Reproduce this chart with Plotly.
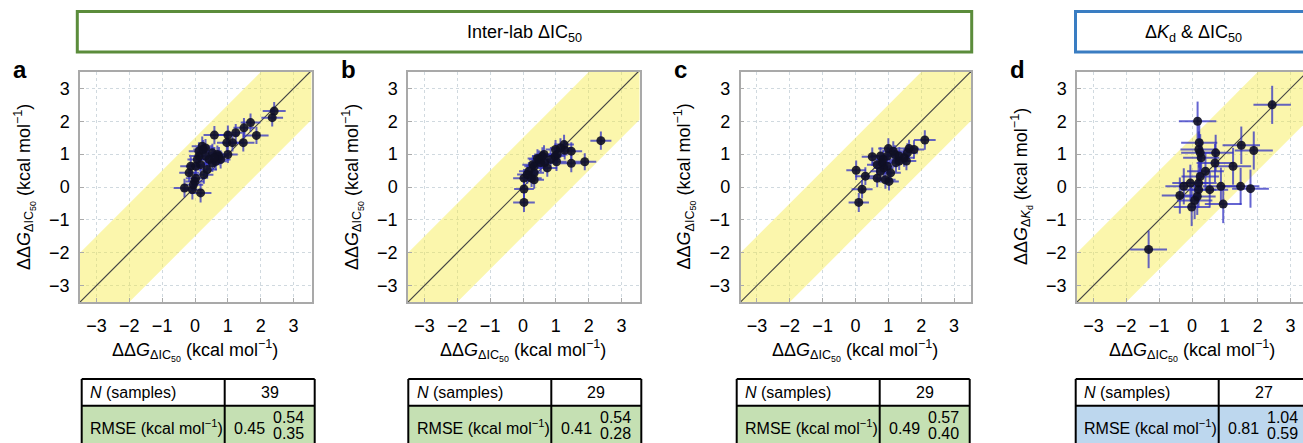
import plotly.graph_objects as go

W, H = 1303, 443
FONT = "Liberation Sans, Arial, Helvetica, sans-serif"

# ---------------- data ----------------
a_x = [2.41, 2.35, 1.69, 1.49, 1.24, 1.00, 1.87, 1.47, 0.59, 0.97, 0.22, 0.32, 0.53, 0.68,
       1.00, 0.12, 0.43, 0.63, 0.78, 0.53, 0.07, -0.13, 0.02, 0.17, 0.37, 0.27, 0.02, -0.01,
       -0.32, -0.08, 0.17, -0.05, 0.73, 0.12, 1.14, 0.25, 0.58, -0.18, 0.32]
a_y = [2.31, 2.11, 1.96, 1.80, 1.65, 1.58, 1.57, 1.35, 1.58, 1.35, 1.24, 1.19, 1.04, 0.99,
       0.99, 0.94, 0.84, 0.78, 0.84, 0.73, 0.84, 0.63, 0.63, 0.68, 0.53, 0.37, 0.27, 0.17,
       -0.03, -0.08, -0.18, 0.07, 0.94, 1.09, 1.35, 1.14, 0.89, 0.43, 0.94]
a_xe = [0.35, 0.33, 0.30, 0.32, 0.30, 0.33, 0.37, 0.34, 0.33, 0.30, 0.32, 0.30, 0.31, 0.33,
        0.30, 0.30, 0.32, 0.34, 0.30, 0.31, 0.30, 0.32, 0.30, 0.31, 0.30, 0.29, 0.30, 0.28,
        0.33, 0.31, 0.33, 0.30, 0.30, 0.31, 0.32, 0.30, 0.31, 0.30, 0.32]
a_ye = [0.28, 0.27, 0.28, 0.30, 0.27, 0.29, 0.26, 0.27, 0.28, 0.28, 0.30, 0.27, 0.28, 0.27,
        0.26, 0.28, 0.29, 0.27, 0.28, 0.27, 0.28, 0.29, 0.27, 0.28, 0.28, 0.27, 0.29, 0.28,
        0.28, 0.30, 0.29, 0.27, 0.28, 0.27, 0.27, 0.29, 0.28, 0.27, 0.28]

b_x = [2.37, 1.25, 1.27, 1.47, 0.99, 1.04, 0.98, 1.02, 1.47, 1.88, 0.64, 0.59, 0.44, 0.74,
       0.54, 0.34, 0.30, 0.18, 0.26, 0.03, 0.34, 0.03, 0.03, 0.49, 0.84, 1.14, 0.34, 0.13, 0.66]
b_y = [1.41, 1.29, 1.12, 1.09, 1.14, 0.99, 0.94, 0.77, 0.72, 0.77, 0.99, 0.94, 0.87, 0.58,
       0.74, 0.63, 0.68, 0.48, 0.27, 0.27, 0.43, -0.06, -0.47, 0.84, 0.84, 1.19, 0.22, 0.38, 0.74]
b_xe = [0.32, 0.30, 0.31, 0.33, 0.30, 0.32, 0.30, 0.31, 0.34, 0.35, 0.30, 0.31, 0.30, 0.30,
        0.31, 0.30, 0.32, 0.30, 0.31, 0.33, 0.30, 0.30, 0.33, 0.31, 0.30, 0.32, 0.30, 0.31, 0.30]
b_ye = [0.28, 0.30, 0.28, 0.27, 0.29, 0.28, 0.27, 0.28, 0.27, 0.26, 0.28, 0.27, 0.28, 0.27,
        0.28, 0.27, 0.29, 0.28, 0.27, 0.28, 0.27, 0.28, 0.29, 0.27, 0.28, 0.29, 0.27, 0.28, 0.27]

c_x = [2.11, 1.78, 1.63, 1.58, 1.55, 1.33, 1.20, 1.15, 1.00, 0.97, 0.76, 0.51, 0.81, 0.86,
       0.76, 0.66, 0.97, 1.07, 1.02, 0.91, 0.66, 0.30, 0.02, 0.20, 0.10, 1.33, 1.48, 1.23, 0.84]
c_y = [1.43, 1.14, 1.17, 1.04, 0.79, 0.79, 0.99, 1.09, 1.17, 0.94, 0.94, 0.92, 0.74, 0.58,
       0.48, 0.68, 0.63, 0.43, 0.17, 0.22, 0.27, 0.33, 0.51, -0.07, -0.47, 0.94, 0.89, 0.74, 0.84]
c_xe = [0.33, 0.31, 0.30, 0.32, 0.30, 0.31, 0.30, 0.32, 0.31, 0.30, 0.30, 0.32, 0.31, 0.30,
        0.30, 0.31, 0.30, 0.31, 0.30, 0.31, 0.30, 0.31, 0.30, 0.32, 0.31, 0.30, 0.31, 0.30, 0.30]
c_ye = [0.30, 0.28, 0.27, 0.29, 0.28, 0.27, 0.28, 0.30, 0.31, 0.28, 0.27, 0.28, 0.29, 0.28,
        0.30, 0.28, 0.27, 0.29, 0.28, 0.27, 0.28, 0.27, 0.30, 0.28, 0.29, 0.28, 0.27, 0.28, 0.28]

d_x = [2.44, 0.17, 0.22, 0.21, 0.25, 0.28, 0.72, 0.70, 1.50, 1.88, 1.25, 0.41, 0.25, -0.05,
       -0.25, 0.20, 0.20, 0.54, 0.88, 1.48, 1.78, -0.37, 0.16, 0.08, -0.01, 0.95, -1.32]
d_y = [2.50, 2.00, 1.35, 1.14, 1.04, 0.89, 1.04, 0.73, 1.27, 1.11, 0.63, 0.48, 0.32, 0.12,
       0.02, 0.12, -0.08, -0.08, 0.02, 0.02, -0.05, -0.26, -0.29, -0.41, -0.61, -0.52, -1.90]
d_xe = [0.57, 0.57, 0.55, 0.56, 0.58, 0.55, 0.54, 0.56, 0.57, 0.58, 0.55, 0.56, 0.57, 0.55,
        0.56, 0.55, 0.54, 0.56, 0.55, 0.57, 0.56, 0.55, 0.56, 0.54, 0.55, 0.56, 0.56]
d_ye = [0.58, 0.60, 0.56, 0.55, 0.57, 0.56, 0.55, 0.58, 0.57, 0.58, 0.56, 0.55, 0.57, 0.56,
        0.55, 0.57, 0.56, 0.55, 0.57, 0.56, 0.58, 0.55, 0.56, 0.57, 0.58, 0.58, 0.57]

panel_letters = ["a", "b", "c", "d"]
n_samples = [39, 29, 29, 27]
rmse = [0.45, 0.41, 0.49, 0.81]
rmse_hi = [0.54, 0.54, 0.57, 1.04]
rmse_lo = [0.35, 0.28, 0.40, 0.59]
tick_vals = [-3, -2, -1, 0, 1, 2, 3]
band_halfwidth = 1.5
header_titles = ["Inter-lab ΔIC<sub>50</sub>", "Δ<i>K</i><sub>d</sub> &amp; ΔIC<sub>50</sub>"]

xtitle = "ΔΔ<i>G</i><sub>ΔIC<sub>50</sub></sub> (kcal mol<sup>−1</sup>)"
ytitles = [xtitle, xtitle, xtitle,
           "ΔΔ<i>G</i><sub>Δ<i>K</i><sub>d</sub></sub> (kcal mol<sup>−1</sup>)"]

series = [(a_x, a_y, a_xe, a_ye), (b_x, b_y, b_xe, b_ye),
          (c_x, c_y, c_xe, c_ye), (d_x, d_y, d_xe, d_ye)]

# ---------------- layout geometry (pixels) ----------------
plot_left = [80, 408, 740.5, 1077]
plot_right = [311.5, 639.5, 971, 1303]
plot_top, plot_bot = 72, 302
lo = -3.5
table_left = [81.7, 408.3, 736.7, 1075.7]
table_fill = ["#c5e0b3", "#c5e0b3", "#c5e0b3", "#bdd7ee"]


def px(x):
    return x / W


def py(y):
    return 1 - y / H


fig = go.Figure()
layout = dict(width=W, height=H, margin=dict(l=0, r=0, t=0, b=0),
              paper_bgcolor="white", plot_bgcolor="white", showlegend=False,
              font=dict(family=FONT, size=17, color="black"))
shapes, annotations = [], []

for i, (xs, ys, xe, ye) in enumerate(series):
    k = "" if i == 0 else str(i + 1)
    xa, ya = "x" + k, "y" + k
    width_px = plot_right[i] - plot_left[i]
    unit = (plot_bot - plot_top) / 7.0
    hi_x = lo + width_px / unit
    ext = [lo - 5, 3.5 + 5]
    # band
    fig.add_trace(go.Scatter(
        x=[ext[0], ext[1], ext[1], ext[0], ext[0]],
        y=[ext[0] + band_halfwidth, ext[1] + band_halfwidth, ext[1] - band_halfwidth,
           ext[0] - band_halfwidth, ext[0] + band_halfwidth],
        fill="toself", fillcolor="rgba(246,234,70,0.45)", line=dict(width=0),
        mode="lines", hoverinfo="skip", xaxis=xa, yaxis=ya))
    # identity line
    fig.add_trace(go.Scatter(x=ext, y=ext, mode="lines",
                             line=dict(color="#444444", width=1.2),
                             hoverinfo="skip", xaxis=xa, yaxis=ya))
    # points
    fig.add_trace(go.Scatter(
        x=xs, y=ys, mode="markers",
        marker=dict(color="rgba(15,15,35,0.9)", size=9, line=dict(width=0)),
        error_x=dict(type="data", array=xe, color="rgba(50,50,195,0.75)", thickness=2, width=0),
        error_y=dict(type="data", array=ye, color="rgba(50,50,195,0.75)", thickness=2, width=0),
        xaxis=xa, yaxis=ya))

    common = dict(tickvals=tick_vals, ticks="inside", ticklen=4, tickcolor="#aaaaaa",
                  showgrid=True, gridcolor="#d0d9df", griddash="dot", gridwidth=1,
                  zeroline=False, showline=True, linecolor="#a9a9a9", linewidth=1.5,
                  tickfont=dict(size=18, family=FONT, color="black"))
    layout["xaxis" + k] = dict(common, domain=[px(plot_left[i]), px(plot_right[i])],
                               range=[lo, hi_x], mirror=True, anchor=ya,
                               ticklabelstandoff=7)
    layout["yaxis" + k] = dict(common, domain=[py(plot_bot), py(plot_top)],
                               range=[lo, 3.5], mirror=(i < 3), anchor=xa,
                               ticklabelstandoff=5)

    cx = plot_left[i] + 3.5 * unit
    # axis titles
    annotations.append(dict(text=xtitle, x=px(cx), y=py(350), xref="paper", yref="paper",
                            showarrow=False, xanchor="center", yanchor="middle",
                            font=dict(size=18, family=FONT)))
    annotations.append(dict(text=ytitles[i], x=px(plot_left[i] - 55), y=py(187),
                            xref="paper", yref="paper", textangle=-90, showarrow=False,
                            xanchor="center", yanchor="middle", font=dict(size=18, family=FONT)))
    # panel letter
    annotations.append(dict(text="<b>%s</b>" % panel_letters[i], x=px(plot_left[i] - 69),
                            y=py(70), xref="paper", yref="paper", showarrow=False,
                            xanchor="left", yanchor="middle", font=dict(size=24, family=FONT)))

    # table
    tl = table_left[i]
    div = tl + 143
    tr = tl + 233
    t_top, t_mid, t_bot = 379, 405.7, 470
    shapes.append(dict(type="rect", xref="paper", yref="paper", x0=px(tl), x1=px(tr),
                       y0=py(t_mid), y1=py(t_bot), fillcolor=table_fill[i],
                       line=dict(width=0), layer="below"))
    for (x0, y0, x1, y1) in [(tl, t_top, tr, t_top), (tl, t_mid, tr, t_mid),
                             (tl, t_top, tl, t_bot), (tr, t_top, tr, t_bot),
                             (div, t_top, div, t_bot)]:
        shapes.append(dict(type="line", xref="paper", yref="paper", x0=px(x0), x1=px(x1),
                           y0=py(y0), y1=py(y1), line=dict(color="black", width=2)))
    tf = dict(size=16, family=FONT, color="black")
    annotations.append(dict(text="<i>N</i> (samples)", x=px(tl + 6.5), y=py(392),
                            xref="paper", yref="paper", showarrow=False, xanchor="left",
                            yanchor="middle", font=tf))
    annotations.append(dict(text=str(n_samples[i]), x=px((div + tr) / 2), y=py(392),
                            xref="paper", yref="paper", showarrow=False, xanchor="center",
                            yanchor="middle", font=tf))
    annotations.append(dict(text="RMSE (kcal mol<sup>−1</sup>)", x=px(tl + 6.5), y=py(427),
                            xref="paper", yref="paper", showarrow=False, xanchor="left",
                            yanchor="middle", font=tf))
    annotations.append(dict(text="%.2f" % rmse[i], x=px(div + 25), y=py(428),
                            xref="paper", yref="paper", showarrow=False, xanchor="center",
                            yanchor="middle", font=tf))
    annotations.append(dict(text="%.2f" % rmse_hi[i], x=px(div + 64), y=py(417),
                            xref="paper", yref="paper", showarrow=False, xanchor="center",
                            yanchor="middle", font=tf))
    annotations.append(dict(text="%.2f" % rmse_lo[i], x=px(div + 64), y=py(433.5),
                            xref="paper", yref="paper", showarrow=False, xanchor="center",
                            yanchor="middle", font=tf))

# header boxes
boxes = [(77.3, 971.7, "#5b8c3b", 524.5), (1075.5, 1312, "#3a7dc2", 1193)]
for (x0, x1, col, tcx), title in zip(boxes, header_titles):
    shapes.append(dict(type="rect", xref="paper", yref="paper", x0=px(x0), x1=px(x1),
                       y0=py(52), y1=py(11.5), line=dict(color=col, width=3),
                       fillcolor="rgba(0,0,0,0)"))
    annotations.append(dict(text=title, x=px(tcx), y=py(33), xref="paper", yref="paper",
                            showarrow=False, xanchor="center", yanchor="middle",
                            font=dict(size=18, family=FONT)))

layout["shapes"] = shapes
layout["annotations"] = annotations
fig.update_layout(**layout)

fig.write_html("out.html", config={"displayModeBar": False},
               post_script="document.body.style.margin='0';document.body.style.overflow='hidden';")
